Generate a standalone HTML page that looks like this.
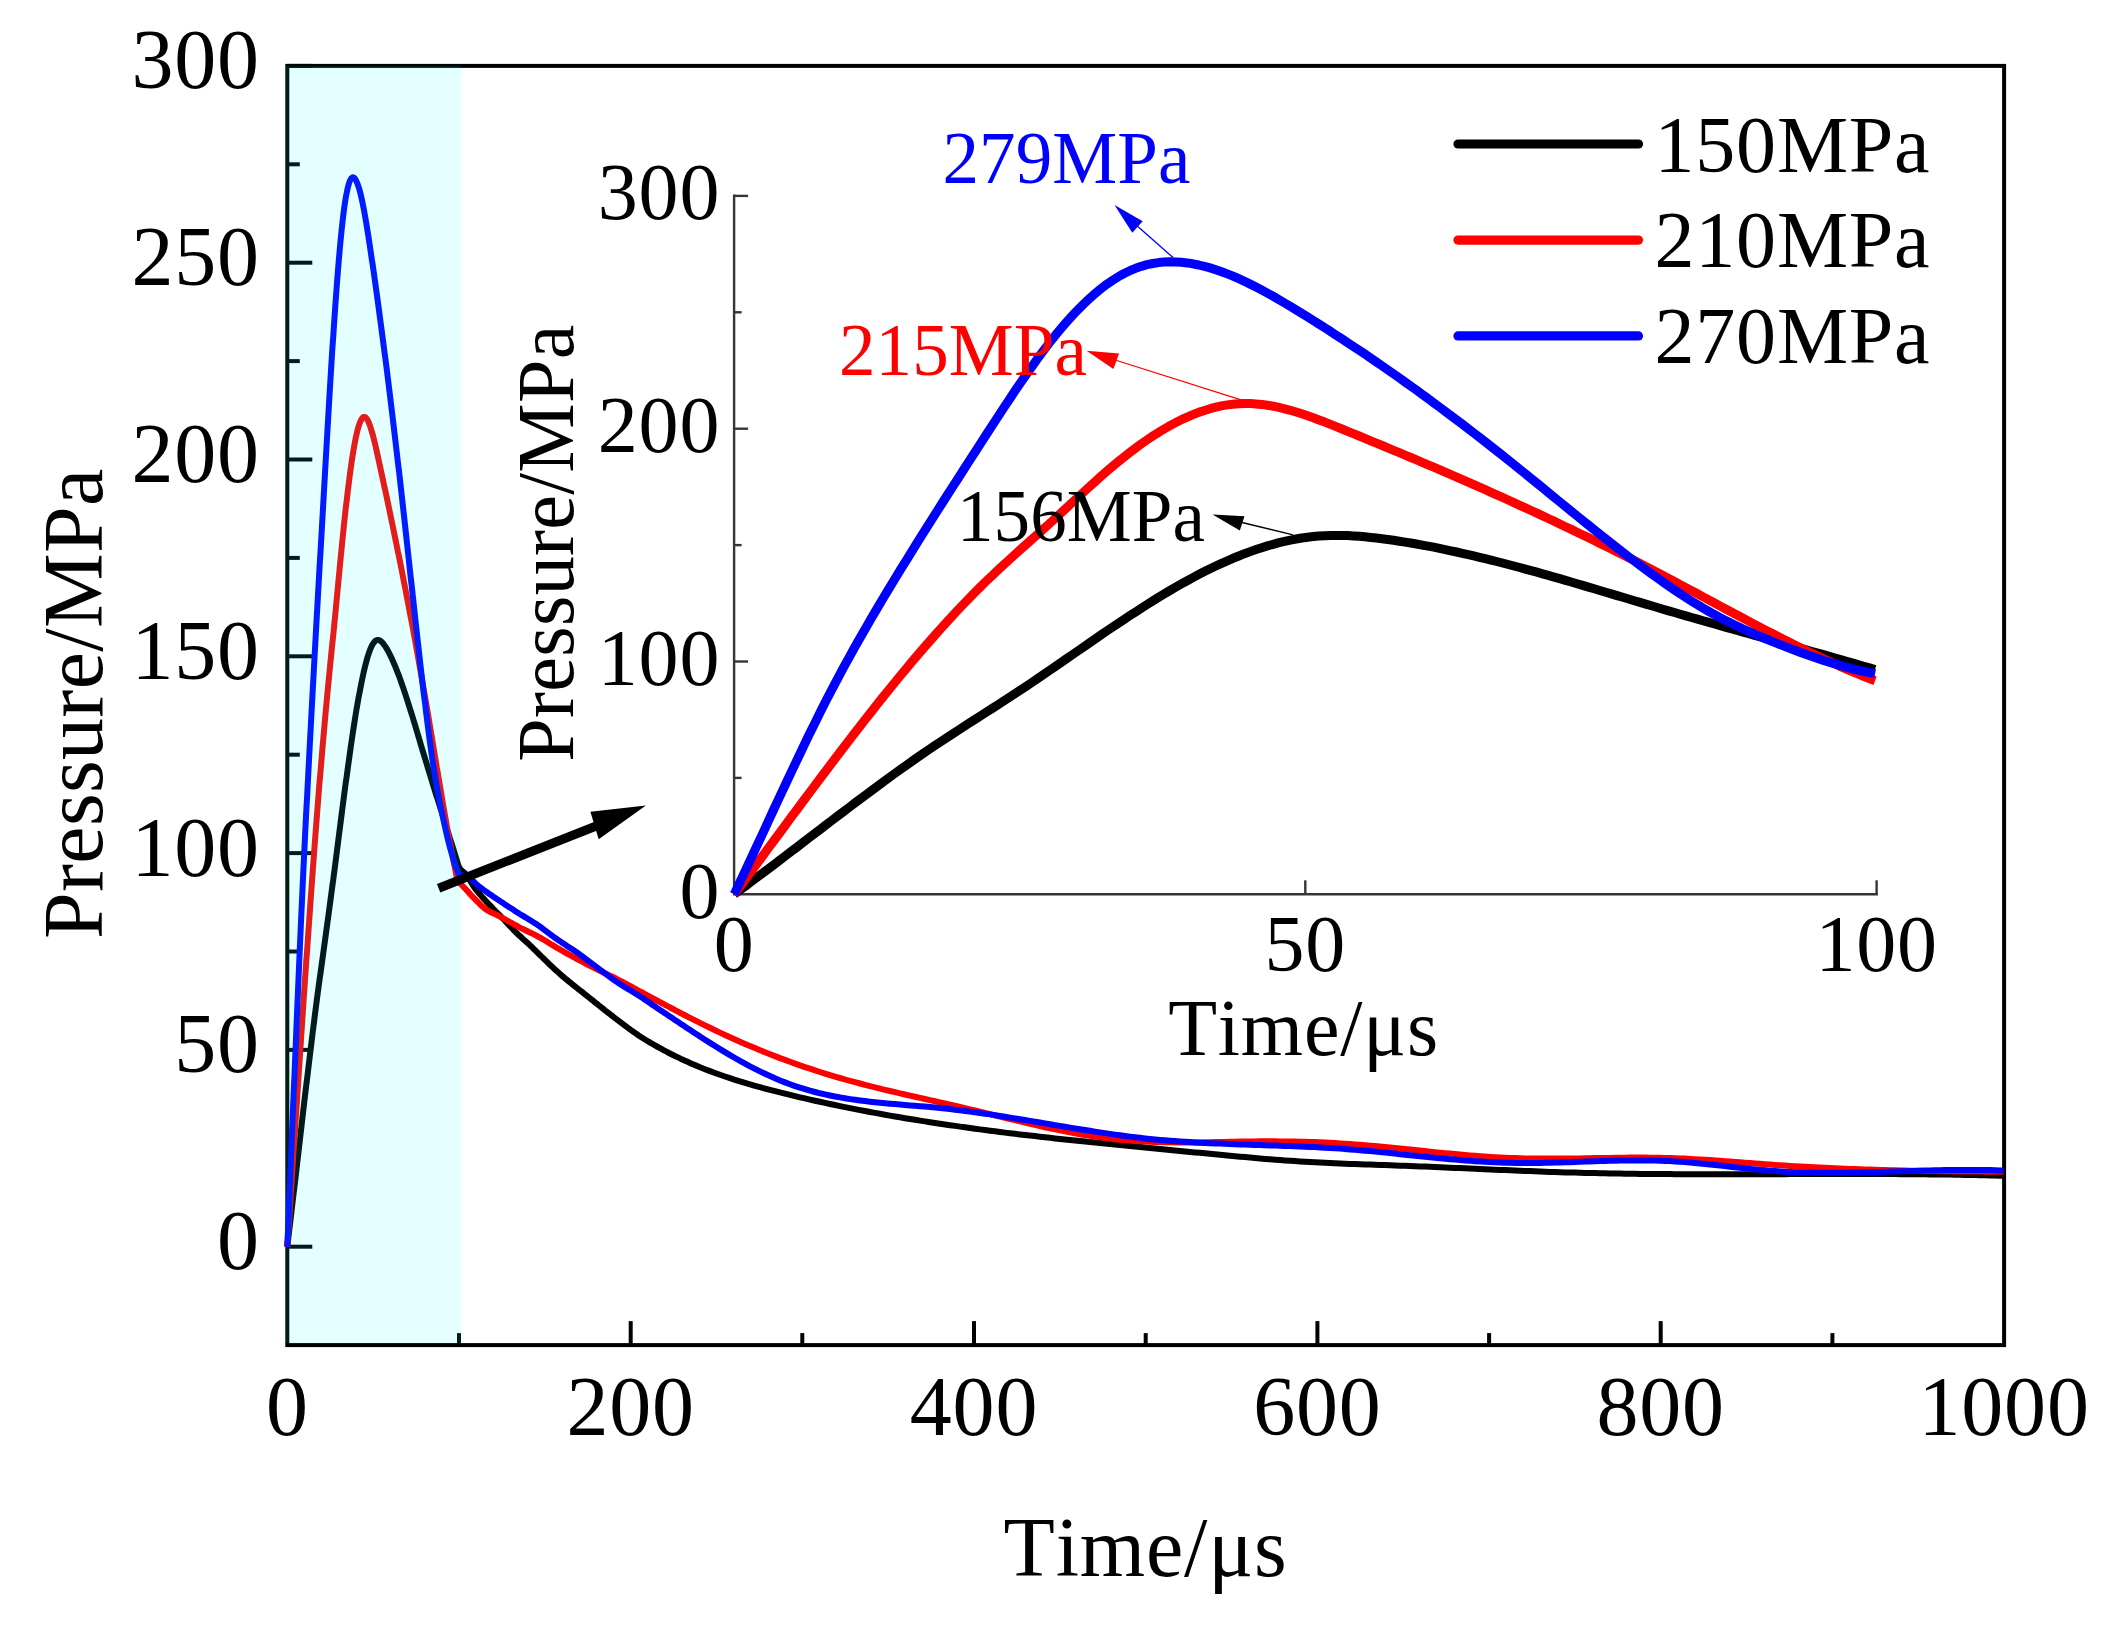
<!DOCTYPE html>
<html lang="en"><head><meta charset="utf-8"><title>Pressure vs time</title>
<style>
html,body{margin:0;padding:0;background:#fff;}
body{width:2110px;height:1630px;overflow:hidden;}
svg{display:block;}
text{font-family:"Liberation Serif",serif;font-kerning:none;letter-spacing:0.8px;}
.yl{letter-spacing:0.35px;}
.m{font-size:84px;}
.i{font-size:80px;}
.a{font-size:73px;}
.a text{letter-spacing:0.1px;}
.iy{font-size:78px;}
</style></head><body>
<svg width="2110" height="1630" viewBox="0 0 2110 1630">
<rect x="0" y="0" width="2110" height="1630" fill="#ffffff"/>
<g stroke="#000" stroke-width="4.0" fill="none" stroke-linecap="butt">
<rect x="287.3" y="65.9" width="1716.8" height="1279.2"/>
</g>
<g stroke="#000" stroke-width="4" fill="none">
<line x1="287.3" y1="1246.7" x2="312.3" y2="1246.7"/>
<line x1="287.3" y1="1148.3" x2="299.8" y2="1148.3"/>
<line x1="287.3" y1="1049.9" x2="312.3" y2="1049.9"/>
<line x1="287.3" y1="951.5" x2="299.8" y2="951.5"/>
<line x1="287.3" y1="853.1" x2="312.3" y2="853.1"/>
<line x1="287.3" y1="754.7" x2="299.8" y2="754.7"/>
<line x1="287.3" y1="656.3" x2="312.3" y2="656.3"/>
<line x1="287.3" y1="557.9" x2="299.8" y2="557.9"/>
<line x1="287.3" y1="459.5" x2="312.3" y2="459.5"/>
<line x1="287.3" y1="361.1" x2="299.8" y2="361.1"/>
<line x1="287.3" y1="262.7" x2="312.3" y2="262.7"/>
<line x1="287.3" y1="164.3" x2="299.8" y2="164.3"/>
<line x1="287.3" y1="65.9" x2="312.3" y2="65.9"/>
<line x1="459.0" y1="1345.1" x2="459.0" y2="1333.1"/>
<line x1="630.7" y1="1345.1" x2="630.7" y2="1321.1"/>
<line x1="802.3" y1="1345.1" x2="802.3" y2="1333.1"/>
<line x1="974.0" y1="1345.1" x2="974.0" y2="1321.1"/>
<line x1="1145.7" y1="1345.1" x2="1145.7" y2="1333.1"/>
<line x1="1317.4" y1="1345.1" x2="1317.4" y2="1321.1"/>
<line x1="1489.1" y1="1345.1" x2="1489.1" y2="1333.1"/>
<line x1="1660.7" y1="1345.1" x2="1660.7" y2="1321.1"/>
<line x1="1832.4" y1="1345.1" x2="1832.4" y2="1333.1"/>
</g>
<g class="m" fill="#000">
<text x="259.8" y="1269.2" text-anchor="end">0</text>
<text x="259.8" y="1072.4" text-anchor="end">50</text>
<text x="259.8" y="875.6" text-anchor="end">100</text>
<text x="259.8" y="678.8" text-anchor="end">150</text>
<text x="259.8" y="482.0" text-anchor="end">200</text>
<text x="259.8" y="285.2" text-anchor="end">250</text>
<text x="259.8" y="88.4" text-anchor="end">300</text>
<text x="287.3" y="1434.5" text-anchor="middle">0</text>
<text x="630.7" y="1434.5" text-anchor="middle">200</text>
<text x="974.0" y="1434.5" text-anchor="middle">400</text>
<text x="1317.4" y="1434.5" text-anchor="middle">600</text>
<text x="1660.7" y="1434.5" text-anchor="middle">800</text>
<text x="2004.1" y="1434.5" text-anchor="middle">1000</text>
<text x="1145.5" y="1576" text-anchor="middle">Time/μs</text>
<text class="yl" transform="translate(101.8 703.7) rotate(-90) scale(1 1.02)" text-anchor="middle">Pressure/MPa</text>
</g>
<g fill="none" stroke-width="6" stroke-linejoin="round" stroke-linecap="butt">
<path stroke="#000000" d="M287.3 1246.7 L288.0 1240.9 L288.7 1235.1 L289.4 1229.2 L290.1 1223.3 L290.8 1217.4 L291.5 1211.4 L292.2 1205.5 L292.9 1199.5 L293.6 1193.4 L294.4 1187.4 L295.1 1181.4 L295.8 1175.3 L296.5 1169.3 L297.2 1163.2 L297.9 1157.1 L298.6 1151.1 L299.3 1145.0 L300.0 1138.9 L300.7 1132.9 L301.4 1126.8 L302.1 1120.8 L302.8 1114.7 L303.5 1108.7 L304.2 1102.7 L304.9 1096.7 L305.6 1090.7 L306.3 1084.8 L307.1 1078.8 L307.8 1072.9 L308.5 1067.0 L309.2 1061.2 L309.9 1055.4 L310.6 1049.6 L311.3 1043.8 L312.0 1038.1 L312.7 1032.5 L313.4 1026.8 L314.1 1021.3 L314.8 1015.7 L315.5 1010.2 L316.2 1004.8 L316.9 999.4 L317.6 994.1 L318.3 988.8 L319.0 983.6 L319.7 978.4 L320.5 973.2 L321.2 968.1 L321.9 962.9 L322.6 957.8 L323.3 952.8 L324.0 947.7 L324.7 942.6 L325.4 937.5 L326.1 932.4 L326.8 927.3 L327.5 922.2 L328.2 917.1 L328.9 911.9 L329.6 906.7 L330.3 901.5 L331.0 896.2 L331.7 890.9 L332.4 885.5 L333.2 880.1 L333.9 874.7 L334.6 869.3 L335.3 863.8 L336.0 858.4 L336.7 852.9 L337.4 847.4 L338.1 841.9 L338.8 836.4 L339.5 830.9 L340.2 825.5 L340.9 820.0 L341.6 814.5 L342.3 809.1 L343.0 803.7 L343.7 798.3 L344.4 792.9 L345.1 787.6 L345.8 782.3 L346.6 777.1 L347.3 771.9 L348.0 766.7 L348.7 761.6 L349.4 756.6 L350.1 751.6 L350.8 746.7 L351.5 741.9 L352.2 737.1 L352.9 732.4 L353.6 727.8 L354.3 723.2 L355.0 718.8 L355.7 714.4 L356.4 710.1 L357.1 705.9 L357.8 701.9 L358.5 697.9 L359.3 694.0 L360.0 690.2 L360.7 686.6 L361.4 683.0 L362.1 679.6 L362.8 676.3 L363.5 673.1 L364.2 670.0 L364.9 667.1 L365.6 664.3 L366.3 661.7 L367.0 659.1 L367.7 656.7 L368.4 654.5 L369.1 652.4 L369.8 650.5 L370.5 648.7 L371.2 647.1 L371.9 645.6 L372.7 644.3 L373.4 643.2 L374.1 642.2 L374.8 641.4 L375.5 640.8 L376.2 640.3 L376.9 640.1 L377.6 639.9 L378.3 640.0 L379.0 640.1 L379.7 640.4 L380.4 640.8 L381.1 641.4 L381.8 642.0 L382.5 642.7 L383.2 643.6 L383.9 644.5 L384.6 645.5 L385.4 646.5 L386.1 647.7 L386.8 648.8 L387.5 650.0 L388.2 651.3 L388.9 652.6 L389.6 654.0 L390.3 655.4 L391.0 656.8 L391.7 658.3 L392.4 659.9 L393.1 661.4 L393.8 663.1 L394.5 664.7 L395.2 666.4 L395.9 668.1 L396.6 669.9 L397.3 671.7 L398.0 673.5 L398.8 675.4 L399.5 677.3 L400.2 679.2 L400.9 681.2 L401.6 683.2 L402.3 685.2 L403.0 687.2 L403.7 689.3 L404.4 691.4 L405.1 693.5 L405.8 695.6 L406.5 697.8 L407.2 699.9 L407.9 702.1 L408.6 704.4 L409.3 706.6 L410.0 708.8 L410.7 711.1 L411.5 713.4 L412.2 715.7 L412.9 718.0 L413.6 720.3 L414.3 722.6 L415.0 724.9 L415.7 727.3 L416.4 729.6 L417.1 732.0 L417.8 734.3 L418.5 736.7 L419.2 739.0 L419.9 741.4 L420.6 743.8 L421.3 746.1 L422.0 748.5 L422.7 750.9 L423.4 753.2 L424.1 755.6 L424.9 757.9 L425.6 760.3 L426.3 762.6 L427.0 764.9 L427.7 767.3 L428.4 769.6 L429.1 771.9 L429.8 774.2 L430.5 776.5 L431.2 778.7 L431.9 781.0 L432.6 783.3 L433.3 785.6 L434.0 787.8 L434.7 790.1 L435.4 792.3 L436.1 794.6 L436.8 796.8 L437.6 799.1 L438.3 801.3 L439.0 803.5 L439.7 805.8 L440.4 808.0 L441.1 810.2 L441.8 812.5 L442.5 814.7 L443.2 816.9 L443.9 819.2 L444.6 821.4 L445.3 823.6 L446.0 825.8 L446.7 828.1 L447.4 830.3 L448.1 832.5 L448.8 834.8 L449.5 837.0 L450.2 839.3 L451.0 841.5 L451.7 843.8 L452.4 846.0 L453.1 848.3 L453.8 850.5 L454.5 852.8 L455.2 855.1 L455.9 857.4 L456.6 859.6 L457.3 861.9 L458.0 864.3 L458.7 866.6 L459.4 867.8 L460.1 868.8 L460.8 869.7 L461.5 870.4 L462.2 871.0 L462.9 871.6 L463.7 872.2 L464.4 872.8 L465.1 873.4 L465.8 874.2 L466.5 875.1 L467.2 876.1 L467.9 877.1 L468.6 878.2 L469.3 879.3 L470.0 880.5 L471.0 882.1 L473.0 885.4 L475.0 888.3 L477.0 890.9 L479.0 893.3 L481.0 895.6 L483.0 897.9 L485.0 900.0 L487.0 902.2 L489.0 904.3 L491.0 906.4 L493.0 908.5 L495.0 910.5 L497.0 912.5 L499.0 914.5 L501.0 916.6 L503.0 918.7 L505.0 920.8 L507.0 923.0 L509.0 925.1 L511.0 927.2 L513.0 929.3 L515.0 931.3 L517.0 933.3 L519.0 935.3 L521.0 937.1 L523.0 938.9 L525.0 940.7 L527.0 942.5 L529.0 944.3 L531.0 946.2 L533.0 948.2 L535.0 950.1 L537.0 952.1 L539.0 954.1 L541.0 956.0 L543.0 958.0 L545.0 959.9 L547.0 961.8 L549.0 963.8 L551.0 965.7 L553.0 967.6 L555.0 969.5 L557.0 971.3 L559.0 973.1 L561.0 974.9 L563.0 976.6 L565.0 978.3 L567.0 979.9 L569.0 981.6 L571.0 983.2 L573.0 984.8 L575.0 986.4 L577.0 988.0 L579.0 989.6 L581.0 991.1 L583.0 992.7 L585.0 994.3 L587.0 995.9 L589.0 997.5 L591.0 999.1 L593.0 1000.7 L595.0 1002.3 L597.0 1003.9 L599.0 1005.5 L601.0 1007.1 L603.0 1008.7 L605.0 1010.3 L607.0 1011.8 L609.0 1013.4 L611.0 1015.0 L613.0 1016.5 L615.0 1018.1 L617.0 1019.6 L619.0 1021.1 L621.0 1022.6 L623.0 1024.1 L625.0 1025.6 L627.0 1027.1 L629.0 1028.6 L631.0 1030.1 L633.0 1031.5 L635.0 1032.9 L637.0 1034.3 L639.0 1035.7 L641.0 1037.0 L643.0 1038.3 L645.0 1039.5 L647.0 1040.7 L649.0 1041.9 L651.0 1043.1 L653.0 1044.2 L655.0 1045.4 L657.0 1046.5 L659.0 1047.6 L661.0 1048.7 L663.0 1049.8 L665.0 1050.9 L667.0 1051.9 L669.0 1053.0 L671.0 1054.0 L673.0 1055.0 L675.0 1056.0 L677.0 1056.9 L679.0 1057.9 L681.0 1058.9 L683.0 1059.8 L685.0 1060.7 L687.0 1061.6 L689.0 1062.5 L691.0 1063.4 L693.0 1064.3 L695.0 1065.1 L697.0 1065.9 L699.0 1066.8 L700.0 1067.2 L705.0 1069.2 L710.0 1071.1 L715.0 1073.0 L720.0 1074.8 L725.0 1076.5 L730.0 1078.2 L735.0 1079.8 L740.0 1081.4 L745.0 1082.9 L750.0 1084.4 L755.0 1085.8 L760.0 1087.2 L765.0 1088.6 L770.0 1089.9 L775.0 1091.2 L780.0 1092.4 L785.0 1093.7 L790.0 1094.9 L795.0 1096.1 L800.0 1097.3 L805.0 1098.4 L810.0 1099.6 L815.0 1100.7 L820.0 1101.8 L825.0 1102.9 L830.0 1104.0 L835.0 1105.0 L840.0 1106.1 L845.0 1107.1 L850.0 1108.1 L855.0 1109.1 L860.0 1110.1 L865.0 1111.0 L870.0 1112.0 L875.0 1112.9 L880.0 1113.8 L885.0 1114.7 L890.0 1115.6 L895.0 1116.5 L900.0 1117.3 L905.0 1118.2 L910.0 1119.0 L915.0 1119.8 L920.0 1120.6 L925.0 1121.4 L930.0 1122.2 L935.0 1123.0 L940.0 1123.7 L945.0 1124.5 L950.0 1125.2 L955.0 1125.9 L960.0 1126.6 L965.0 1127.3 L970.0 1128.0 L975.0 1128.7 L980.0 1129.4 L985.0 1130.0 L990.0 1130.7 L995.0 1131.3 L1000.0 1131.9 L1005.0 1132.6 L1010.0 1133.2 L1015.0 1133.8 L1020.0 1134.4 L1025.0 1135.0 L1030.0 1135.6 L1035.0 1136.1 L1040.0 1136.7 L1045.0 1137.3 L1050.0 1137.8 L1055.0 1138.4 L1060.0 1138.9 L1065.0 1139.5 L1070.0 1140.0 L1075.0 1140.5 L1080.0 1141.1 L1085.0 1141.6 L1090.0 1142.1 L1095.0 1142.6 L1100.0 1143.1 L1105.0 1143.6 L1110.0 1144.1 L1115.0 1144.6 L1120.0 1145.1 L1125.0 1145.6 L1130.0 1146.1 L1135.0 1146.6 L1140.0 1147.1 L1145.0 1147.6 L1150.0 1148.0 L1155.0 1148.5 L1160.0 1149.0 L1165.0 1149.5 L1170.0 1150.0 L1175.0 1150.4 L1180.0 1150.9 L1185.0 1151.4 L1190.0 1151.9 L1195.0 1152.4 L1200.0 1152.8 L1205.0 1153.3 L1210.0 1153.8 L1215.0 1154.3 L1220.0 1154.8 L1225.0 1155.3 L1230.0 1155.7 L1235.0 1156.2 L1240.0 1156.7 L1245.0 1157.1 L1250.0 1157.6 L1255.0 1158.0 L1260.0 1158.5 L1265.0 1158.9 L1270.0 1159.3 L1275.0 1159.7 L1280.0 1160.1 L1285.0 1160.4 L1290.0 1160.8 L1295.0 1161.1 L1300.0 1161.4 L1305.0 1161.7 L1310.0 1162.0 L1315.0 1162.3 L1320.0 1162.6 L1325.0 1162.8 L1330.0 1163.0 L1335.0 1163.3 L1340.0 1163.5 L1345.0 1163.7 L1350.0 1163.9 L1355.0 1164.1 L1360.0 1164.3 L1365.0 1164.4 L1370.0 1164.6 L1375.0 1164.8 L1380.0 1165.0 L1385.0 1165.1 L1390.0 1165.3 L1395.0 1165.5 L1400.0 1165.7 L1405.0 1165.8 L1410.0 1166.0 L1415.0 1166.2 L1420.0 1166.4 L1425.0 1166.6 L1430.0 1166.8 L1435.0 1167.0 L1440.0 1167.2 L1445.0 1167.4 L1450.0 1167.7 L1455.0 1167.9 L1460.0 1168.1 L1465.0 1168.3 L1470.0 1168.6 L1475.0 1168.8 L1480.0 1169.0 L1485.0 1169.2 L1490.0 1169.4 L1495.0 1169.7 L1500.0 1169.9 L1505.0 1170.1 L1510.0 1170.3 L1515.0 1170.5 L1520.0 1170.7 L1525.0 1170.9 L1530.0 1171.1 L1535.0 1171.3 L1540.0 1171.5 L1545.0 1171.7 L1550.0 1171.9 L1555.0 1172.0 L1560.0 1172.2 L1565.0 1172.4 L1570.0 1172.5 L1575.0 1172.6 L1580.0 1172.8 L1585.0 1172.9 L1590.0 1173.0 L1595.0 1173.1 L1600.0 1173.2 L1605.0 1173.3 L1610.0 1173.4 L1615.0 1173.5 L1620.0 1173.6 L1625.0 1173.7 L1630.0 1173.7 L1635.0 1173.8 L1640.0 1173.9 L1645.0 1173.9 L1650.0 1174.0 L1655.0 1174.0 L1660.0 1174.1 L1665.0 1174.1 L1670.0 1174.1 L1675.0 1174.2 L1680.0 1174.2 L1685.0 1174.2 L1690.0 1174.2 L1695.0 1174.2 L1700.0 1174.3 L1705.0 1174.3 L1710.0 1174.3 L1715.0 1174.3 L1720.0 1174.3 L1725.0 1174.3 L1730.0 1174.3 L1735.0 1174.3 L1740.0 1174.3 L1745.0 1174.3 L1750.0 1174.2 L1755.0 1174.2 L1760.0 1174.2 L1765.0 1174.2 L1770.0 1174.2 L1775.0 1174.2 L1780.0 1174.2 L1785.0 1174.2 L1790.0 1174.1 L1795.0 1174.1 L1800.0 1174.1 L1805.0 1174.1 L1810.0 1174.1 L1815.0 1174.1 L1820.0 1174.1 L1825.0 1174.1 L1830.0 1174.0 L1835.0 1174.0 L1840.0 1174.0 L1845.0 1174.0 L1850.0 1174.0 L1855.0 1174.0 L1860.0 1174.0 L1865.0 1174.0 L1870.0 1174.0 L1875.0 1174.1 L1880.0 1174.1 L1885.0 1174.1 L1890.0 1174.1 L1895.0 1174.1 L1900.0 1174.2 L1905.0 1174.2 L1910.0 1174.2 L1915.0 1174.3 L1920.0 1174.3 L1925.0 1174.3 L1930.0 1174.4 L1935.0 1174.4 L1940.0 1174.5 L1945.0 1174.6 L1950.0 1174.6 L1955.0 1174.7 L1960.0 1174.8 L1965.0 1174.9 L1970.0 1175.0 L1975.0 1175.1 L1980.0 1175.2 L1985.0 1175.3 L1990.0 1175.4 L1995.0 1175.6 L2000.0 1175.7 L2003.5 1175.8"/>
<path stroke="#ff0000" d="M287.3 1246.7 L288.0 1236.2 L288.7 1225.6 L289.4 1214.9 L290.1 1204.2 L290.8 1193.4 L291.5 1182.7 L292.2 1172.0 L292.9 1161.2 L293.6 1150.5 L294.4 1139.7 L295.1 1129.0 L295.8 1118.3 L296.5 1107.6 L297.2 1096.9 L297.9 1086.2 L298.6 1075.6 L299.3 1065.0 L300.0 1054.4 L300.7 1043.8 L301.4 1033.3 L302.1 1022.8 L302.8 1012.3 L303.5 1001.9 L304.2 991.5 L304.9 981.2 L305.6 970.9 L306.3 960.7 L307.1 950.5 L307.8 940.4 L308.5 930.4 L309.2 920.4 L309.9 910.5 L310.6 900.6 L311.3 890.9 L312.0 881.2 L312.7 871.6 L313.4 862.0 L314.1 852.6 L314.8 843.2 L315.5 833.9 L316.2 824.7 L316.9 815.7 L317.6 806.7 L318.3 797.8 L319.0 789.0 L319.7 780.3 L320.5 771.7 L321.2 763.3 L321.9 755.0 L322.6 746.7 L323.3 738.6 L324.0 730.7 L324.7 722.8 L325.4 715.1 L326.1 707.5 L326.8 700.0 L327.5 692.6 L328.2 685.3 L328.9 678.1 L329.6 671.0 L330.3 663.8 L331.0 656.8 L331.7 649.7 L332.4 642.6 L333.2 635.5 L333.9 628.4 L334.6 621.2 L335.3 614.0 L336.0 606.7 L336.7 599.4 L337.4 592.0 L338.1 584.7 L338.8 577.3 L339.5 570.0 L340.2 562.7 L340.9 555.5 L341.6 548.3 L342.3 541.3 L343.0 534.3 L343.7 527.4 L344.4 520.7 L345.1 514.1 L345.8 507.7 L346.6 501.5 L347.3 495.4 L348.0 489.5 L348.7 483.8 L349.4 478.3 L350.1 472.9 L350.8 467.8 L351.5 462.9 L352.2 458.2 L352.9 453.8 L353.6 449.5 L354.3 445.5 L355.0 441.7 L355.7 438.2 L356.4 434.9 L357.1 431.9 L357.8 429.1 L358.5 426.6 L359.3 424.4 L360.0 422.4 L360.7 420.8 L361.4 419.4 L362.1 418.3 L362.8 417.5 L363.5 417.0 L364.2 416.9 L364.9 417.0 L365.6 417.4 L366.3 418.1 L367.0 419.1 L367.7 420.3 L368.4 421.8 L369.1 423.4 L369.8 425.3 L370.5 427.4 L371.2 429.6 L371.9 432.0 L372.7 434.5 L373.4 437.2 L374.1 440.0 L374.8 442.9 L375.5 445.9 L376.2 449.0 L376.9 452.1 L377.6 455.3 L378.3 458.5 L379.0 461.7 L379.7 464.9 L380.4 468.2 L381.1 471.4 L381.8 474.7 L382.5 477.9 L383.2 481.2 L383.9 484.5 L384.6 487.8 L385.4 491.1 L386.1 494.4 L386.8 497.7 L387.5 501.0 L388.2 504.3 L388.9 507.7 L389.6 511.0 L390.3 514.4 L391.0 517.8 L391.7 521.2 L392.4 524.5 L393.1 527.9 L393.8 531.4 L394.5 534.8 L395.2 538.2 L395.9 541.7 L396.6 545.1 L397.3 548.6 L398.0 552.1 L398.8 555.6 L399.5 559.1 L400.2 562.6 L400.9 566.2 L401.6 569.7 L402.3 573.3 L403.0 576.9 L403.7 580.5 L404.4 584.1 L405.1 587.7 L405.8 591.3 L406.5 595.0 L407.2 598.6 L407.9 602.3 L408.6 606.0 L409.3 609.7 L410.0 613.5 L410.7 617.2 L411.5 621.0 L412.2 624.7 L412.9 628.5 L413.6 632.3 L414.3 636.2 L415.0 640.0 L415.7 643.9 L416.4 647.7 L417.1 651.6 L417.8 655.6 L418.5 659.5 L419.2 663.4 L419.9 667.4 L420.6 671.4 L421.3 675.4 L422.0 679.4 L422.7 683.5 L423.4 687.6 L424.1 691.6 L424.9 695.7 L425.6 699.9 L426.3 704.0 L427.0 708.2 L427.7 712.4 L428.4 716.6 L429.1 720.8 L429.8 725.0 L430.5 729.3 L431.2 733.5 L431.9 737.8 L432.6 742.0 L433.3 746.3 L434.0 750.5 L434.7 754.8 L435.4 759.1 L436.1 763.3 L436.8 767.6 L437.6 771.8 L438.3 776.0 L439.0 780.3 L439.7 784.5 L440.4 788.6 L441.1 792.8 L441.8 797.0 L442.5 801.1 L443.2 805.2 L443.9 809.3 L444.6 813.3 L445.3 817.3 L446.0 821.3 L446.7 825.3 L447.4 829.2 L448.1 833.1 L448.8 836.9 L449.5 840.7 L450.2 844.5 L451.0 848.2 L451.7 851.9 L452.4 855.5 L453.1 859.1 L453.8 862.6 L454.5 866.1 L455.2 869.5 L455.9 872.8 L456.6 876.1 L457.3 879.8 L458.0 881.6 L458.7 882.4 L459.4 883.0 L460.1 883.5 L460.8 884.1 L461.5 884.7 L462.2 885.5 L462.9 886.2 L463.7 886.9 L464.4 887.7 L465.1 888.5 L465.8 889.2 L466.5 890.0 L467.2 890.8 L467.9 891.6 L468.6 892.4 L469.3 893.1 L470.0 893.9 L471.0 895.0 L473.0 897.1 L475.0 899.1 L477.0 901.2 L479.0 903.2 L481.0 905.2 L483.0 907.0 L485.0 908.7 L487.0 910.1 L489.0 911.3 L491.0 912.3 L493.0 913.2 L495.0 914.1 L497.0 915.0 L499.0 916.1 L501.0 917.1 L503.0 918.2 L505.0 919.3 L507.0 920.5 L509.0 921.6 L511.0 922.7 L513.0 923.8 L515.0 924.9 L517.0 926.0 L519.0 927.1 L521.0 928.1 L523.0 929.1 L525.0 930.0 L527.0 931.0 L529.0 932.0 L531.0 932.9 L533.0 933.9 L535.0 934.9 L537.0 936.0 L539.0 937.1 L541.0 938.2 L543.0 939.3 L545.0 940.5 L547.0 941.7 L549.0 943.0 L551.0 944.2 L553.0 945.4 L555.0 946.6 L557.0 947.8 L559.0 948.9 L561.0 950.1 L563.0 951.2 L565.0 952.4 L567.0 953.5 L569.0 954.6 L571.0 955.7 L573.0 956.8 L575.0 957.9 L577.0 959.0 L579.0 960.1 L581.0 961.1 L583.0 962.1 L585.0 963.2 L587.0 964.2 L589.0 965.2 L591.0 966.2 L593.0 967.2 L595.0 968.2 L597.0 969.2 L599.0 970.2 L601.0 971.2 L603.0 972.2 L605.0 973.2 L607.0 974.1 L609.0 975.1 L611.0 976.1 L613.0 977.0 L615.0 978.0 L617.0 979.1 L619.0 980.1 L621.0 981.1 L623.0 982.2 L625.0 983.3 L627.0 984.3 L629.0 985.4 L631.0 986.5 L633.0 987.6 L635.0 988.7 L637.0 989.8 L639.0 990.9 L641.0 991.9 L643.0 993.0 L645.0 994.1 L647.0 995.2 L649.0 996.2 L651.0 997.3 L653.0 998.4 L655.0 999.5 L657.0 1000.5 L659.0 1001.6 L661.0 1002.7 L663.0 1003.7 L665.0 1004.8 L667.0 1005.9 L669.0 1006.9 L671.0 1008.0 L673.0 1009.0 L675.0 1010.1 L677.0 1011.1 L679.0 1012.2 L681.0 1013.2 L683.0 1014.3 L685.0 1015.3 L687.0 1016.3 L689.0 1017.4 L691.0 1018.4 L693.0 1019.4 L695.0 1020.4 L697.0 1021.4 L699.0 1022.4 L700.0 1022.9 L705.0 1025.4 L710.0 1027.8 L715.0 1030.2 L720.0 1032.6 L725.0 1034.9 L730.0 1037.2 L735.0 1039.5 L740.0 1041.7 L745.0 1043.9 L750.0 1046.0 L755.0 1048.1 L760.0 1050.2 L765.0 1052.2 L770.0 1054.2 L775.0 1056.1 L780.0 1058.1 L785.0 1059.9 L790.0 1061.8 L795.0 1063.6 L800.0 1065.3 L805.0 1067.1 L810.0 1068.7 L815.0 1070.4 L820.0 1072.0 L825.0 1073.6 L830.0 1075.1 L835.0 1076.6 L840.0 1078.0 L845.0 1079.5 L850.0 1080.9 L855.0 1082.2 L860.0 1083.5 L865.0 1084.8 L870.0 1086.1 L875.0 1087.4 L880.0 1088.6 L885.0 1089.8 L890.0 1091.0 L895.0 1092.2 L900.0 1093.4 L905.0 1094.5 L910.0 1095.7 L915.0 1096.8 L920.0 1097.9 L925.0 1099.0 L930.0 1100.2 L935.0 1101.3 L940.0 1102.4 L945.0 1103.5 L950.0 1104.7 L955.0 1105.8 L960.0 1107.0 L965.0 1108.1 L970.0 1109.3 L975.0 1110.5 L980.0 1111.7 L985.0 1112.9 L990.0 1114.1 L995.0 1115.3 L1000.0 1116.5 L1005.0 1117.8 L1010.0 1119.0 L1015.0 1120.2 L1020.0 1121.4 L1025.0 1122.6 L1030.0 1123.8 L1035.0 1124.9 L1040.0 1126.1 L1045.0 1127.2 L1050.0 1128.3 L1055.0 1129.4 L1060.0 1130.4 L1065.0 1131.4 L1070.0 1132.4 L1075.0 1133.3 L1080.0 1134.2 L1085.0 1135.1 L1090.0 1135.9 L1095.0 1136.7 L1100.0 1137.4 L1105.0 1138.0 L1110.0 1138.6 L1115.0 1139.2 L1120.0 1139.7 L1125.0 1140.1 L1130.0 1140.6 L1135.0 1140.9 L1140.0 1141.2 L1145.0 1141.5 L1150.0 1141.7 L1155.0 1141.9 L1160.0 1142.1 L1165.0 1142.2 L1170.0 1142.3 L1175.0 1142.4 L1180.0 1142.4 L1185.0 1142.5 L1190.0 1142.4 L1195.0 1142.4 L1200.0 1142.4 L1205.0 1142.3 L1210.0 1142.2 L1215.0 1142.1 L1220.0 1142.0 L1225.0 1141.9 L1230.0 1141.8 L1235.0 1141.7 L1240.0 1141.6 L1245.0 1141.5 L1250.0 1141.4 L1255.0 1141.4 L1260.0 1141.3 L1265.0 1141.3 L1270.0 1141.3 L1275.0 1141.3 L1280.0 1141.4 L1285.0 1141.4 L1290.0 1141.5 L1295.0 1141.6 L1300.0 1141.7 L1305.0 1141.8 L1310.0 1141.9 L1315.0 1142.1 L1320.0 1142.3 L1325.0 1142.5 L1330.0 1142.8 L1335.0 1143.1 L1340.0 1143.4 L1345.0 1143.7 L1350.0 1144.0 L1355.0 1144.4 L1360.0 1144.8 L1365.0 1145.2 L1370.0 1145.7 L1375.0 1146.1 L1380.0 1146.6 L1385.0 1147.1 L1390.0 1147.5 L1395.0 1148.0 L1400.0 1148.6 L1405.0 1149.1 L1410.0 1149.6 L1415.0 1150.1 L1420.0 1150.6 L1425.0 1151.1 L1430.0 1151.7 L1435.0 1152.2 L1440.0 1152.7 L1445.0 1153.2 L1450.0 1153.6 L1455.0 1154.1 L1460.0 1154.6 L1465.0 1155.0 L1470.0 1155.4 L1475.0 1155.8 L1480.0 1156.2 L1485.0 1156.6 L1490.0 1156.9 L1495.0 1157.2 L1500.0 1157.5 L1505.0 1157.7 L1510.0 1158.0 L1515.0 1158.1 L1520.0 1158.3 L1525.0 1158.4 L1530.0 1158.5 L1535.0 1158.6 L1540.0 1158.6 L1545.0 1158.6 L1550.0 1158.6 L1555.0 1158.6 L1560.0 1158.6 L1565.0 1158.5 L1570.0 1158.5 L1575.0 1158.4 L1580.0 1158.4 L1585.0 1158.3 L1590.0 1158.2 L1595.0 1158.1 L1600.0 1158.0 L1605.0 1157.9 L1610.0 1157.9 L1615.0 1157.8 L1620.0 1157.7 L1625.0 1157.7 L1630.0 1157.6 L1635.0 1157.6 L1640.0 1157.6 L1645.0 1157.6 L1650.0 1157.7 L1655.0 1157.7 L1660.0 1157.8 L1665.0 1157.9 L1670.0 1158.0 L1675.0 1158.2 L1680.0 1158.4 L1685.0 1158.6 L1690.0 1158.9 L1695.0 1159.2 L1700.0 1159.4 L1705.0 1159.8 L1710.0 1160.1 L1715.0 1160.4 L1720.0 1160.8 L1725.0 1161.2 L1730.0 1161.5 L1735.0 1161.9 L1740.0 1162.3 L1745.0 1162.7 L1750.0 1163.1 L1755.0 1163.5 L1760.0 1163.8 L1765.0 1164.2 L1770.0 1164.6 L1775.0 1164.9 L1780.0 1165.3 L1785.0 1165.6 L1790.0 1165.9 L1795.0 1166.2 L1800.0 1166.5 L1805.0 1166.8 L1810.0 1167.1 L1815.0 1167.3 L1820.0 1167.6 L1825.0 1167.8 L1830.0 1168.1 L1835.0 1168.3 L1840.0 1168.5 L1845.0 1168.7 L1850.0 1168.9 L1855.0 1169.1 L1860.0 1169.3 L1865.0 1169.4 L1870.0 1169.6 L1875.0 1169.8 L1880.0 1169.9 L1885.0 1170.0 L1890.0 1170.2 L1895.0 1170.3 L1900.0 1170.4 L1905.0 1170.5 L1910.0 1170.7 L1915.0 1170.8 L1920.0 1170.8 L1925.0 1170.9 L1930.0 1171.0 L1935.0 1171.1 L1940.0 1171.2 L1945.0 1171.2 L1950.0 1171.3 L1955.0 1171.4 L1960.0 1171.4 L1965.0 1171.5 L1970.0 1171.5 L1975.0 1171.6 L1980.0 1171.6 L1985.0 1171.7 L1990.0 1171.7 L1995.0 1171.7 L2000.0 1171.8 L2003.5 1171.8"/>
<path stroke="#0000ff" d="M287.3 1246.7 L288.0 1230.3 L288.7 1213.6 L289.4 1196.5 L290.1 1179.5 L290.8 1162.4 L291.5 1145.2 L292.2 1128.1 L292.9 1111.0 L293.6 1093.9 L294.4 1076.8 L295.1 1059.9 L295.8 1043.0 L296.5 1026.2 L297.2 1009.5 L297.9 993.0 L298.6 976.6 L299.3 960.4 L300.0 944.4 L300.7 928.6 L301.4 913.1 L302.1 897.8 L302.8 882.7 L303.5 867.9 L304.2 853.3 L304.9 838.9 L305.6 824.7 L306.3 810.7 L307.1 796.9 L307.8 783.2 L308.5 769.6 L309.2 756.2 L309.9 742.9 L310.6 729.8 L311.3 716.7 L312.0 703.7 L312.7 690.7 L313.4 677.9 L314.1 665.1 L314.8 652.3 L315.5 639.7 L316.2 627.0 L316.9 614.5 L317.6 602.0 L318.3 589.5 L319.0 577.0 L319.7 564.6 L320.5 552.2 L321.2 539.9 L321.9 527.6 L322.6 515.3 L323.3 503.0 L324.0 490.7 L324.7 478.4 L325.4 466.1 L326.1 453.9 L326.8 441.7 L327.5 429.5 L328.2 417.5 L328.9 405.5 L329.6 393.7 L330.3 382.0 L331.0 370.5 L331.7 359.2 L332.4 348.1 L333.2 337.2 L333.9 326.5 L334.6 316.1 L335.3 306.0 L336.0 296.2 L336.7 286.7 L337.4 277.6 L338.1 268.8 L338.8 260.3 L339.5 252.3 L340.2 244.6 L340.9 237.2 L341.6 230.3 L342.3 223.8 L343.0 217.6 L343.7 211.9 L344.4 206.7 L345.1 201.8 L345.8 197.4 L346.6 193.5 L347.3 190.0 L348.0 186.9 L348.7 184.3 L349.4 182.1 L350.1 180.4 L350.8 179.0 L351.5 178.1 L352.2 177.6 L352.9 177.3 L353.6 177.5 L354.3 177.9 L355.0 178.7 L355.7 179.8 L356.4 181.1 L357.1 182.8 L357.8 184.7 L358.5 186.8 L359.3 189.1 L360.0 191.7 L360.7 194.5 L361.4 197.5 L362.1 200.7 L362.8 204.1 L363.5 207.6 L364.2 211.3 L364.9 215.2 L365.6 219.2 L366.3 223.3 L367.0 227.6 L367.7 232.0 L368.4 236.4 L369.1 241.0 L369.8 245.6 L370.5 250.4 L371.2 255.1 L371.9 260.0 L372.7 264.8 L373.4 269.8 L374.1 274.7 L374.8 279.7 L375.5 284.7 L376.2 289.8 L376.9 294.8 L377.6 300.0 L378.3 305.1 L379.0 310.3 L379.7 315.6 L380.4 320.8 L381.1 326.1 L381.8 331.5 L382.5 336.8 L383.2 342.2 L383.9 347.7 L384.6 353.1 L385.4 358.6 L386.1 364.2 L386.8 369.7 L387.5 375.3 L388.2 381.0 L388.9 386.6 L389.6 392.4 L390.3 398.1 L391.0 403.9 L391.7 409.7 L392.4 415.5 L393.1 421.3 L393.8 427.2 L394.5 433.2 L395.2 439.1 L395.9 445.1 L396.6 451.1 L397.3 457.2 L398.0 463.3 L398.8 469.4 L399.5 475.5 L400.2 481.7 L400.9 487.9 L401.6 494.1 L402.3 500.4 L403.0 506.7 L403.7 513.0 L404.4 519.4 L405.1 525.8 L405.8 532.2 L406.5 538.6 L407.2 545.0 L407.9 551.5 L408.6 558.0 L409.3 564.4 L410.0 570.9 L410.7 577.4 L411.5 583.9 L412.2 590.3 L412.9 596.8 L413.6 603.3 L414.3 609.7 L415.0 616.1 L415.7 622.5 L416.4 628.9 L417.1 635.3 L417.8 641.6 L418.5 647.9 L419.2 654.1 L419.9 660.3 L420.6 666.5 L421.3 672.6 L422.0 678.6 L422.7 684.6 L423.4 690.6 L424.1 696.5 L424.9 702.3 L425.6 708.1 L426.3 713.8 L427.0 719.4 L427.7 724.9 L428.4 730.4 L429.1 735.7 L429.8 741.0 L430.5 746.2 L431.2 751.2 L431.9 756.1 L432.6 760.9 L433.3 765.6 L434.0 770.2 L434.7 774.5 L435.4 778.8 L436.1 782.9 L436.8 786.9 L437.6 790.8 L438.3 794.6 L439.0 798.3 L439.7 801.9 L440.4 805.4 L441.1 808.8 L441.8 812.1 L442.5 815.5 L443.2 818.7 L443.9 821.9 L444.6 825.1 L445.3 828.2 L446.0 831.3 L446.7 834.3 L447.4 837.3 L448.1 840.2 L448.8 843.0 L449.5 845.7 L450.2 848.4 L451.0 851.0 L451.7 853.6 L452.4 856.0 L453.1 858.4 L453.8 860.6 L454.5 862.8 L455.2 864.9 L455.9 866.9 L456.6 868.7 L457.3 870.5 L458.0 872.2 L458.7 873.7 L459.4 874.2 L460.1 874.5 L460.8 874.8 L461.5 875.1 L462.2 875.2 L462.9 875.4 L463.7 875.5 L464.4 875.7 L465.1 875.8 L465.8 876.0 L466.5 876.2 L467.2 876.5 L467.9 876.9 L468.6 877.3 L469.3 877.8 L470.0 878.3 L471.0 879.2 L473.0 881.0 L475.0 882.9 L477.0 884.8 L479.0 886.5 L481.0 888.0 L483.0 889.5 L485.0 890.9 L487.0 892.3 L489.0 893.7 L491.0 895.0 L493.0 896.4 L495.0 897.7 L497.0 899.1 L499.0 900.4 L501.0 901.8 L503.0 903.1 L505.0 904.4 L507.0 905.7 L509.0 907.1 L511.0 908.3 L513.0 909.6 L515.0 910.9 L517.0 912.2 L519.0 913.5 L521.0 914.7 L523.0 915.9 L525.0 917.1 L527.0 918.3 L529.0 919.5 L531.0 920.8 L533.0 922.0 L535.0 923.3 L537.0 924.6 L539.0 925.9 L541.0 927.3 L543.0 928.8 L545.0 930.3 L547.0 931.8 L549.0 933.3 L551.0 934.8 L553.0 936.3 L555.0 937.8 L557.0 939.2 L559.0 940.6 L561.0 941.9 L563.0 943.3 L565.0 944.6 L567.0 945.9 L569.0 947.2 L571.0 948.5 L573.0 949.8 L575.0 951.1 L577.0 952.5 L579.0 953.9 L581.0 955.4 L583.0 956.8 L585.0 958.3 L587.0 959.8 L589.0 961.3 L591.0 962.8 L593.0 964.3 L595.0 965.8 L597.0 967.3 L599.0 968.8 L601.0 970.3 L603.0 971.8 L605.0 973.3 L607.0 974.8 L609.0 976.3 L611.0 977.8 L613.0 979.3 L615.0 980.7 L617.0 982.1 L619.0 983.4 L621.0 984.7 L623.0 985.9 L625.0 987.2 L627.0 988.4 L629.0 989.6 L631.0 990.7 L633.0 991.9 L635.0 993.2 L637.0 994.4 L639.0 995.7 L641.0 997.0 L643.0 998.3 L645.0 999.7 L647.0 1001.1 L649.0 1002.4 L651.0 1003.8 L653.0 1005.2 L655.0 1006.5 L657.0 1007.9 L659.0 1009.2 L661.0 1010.6 L663.0 1011.9 L665.0 1013.3 L667.0 1014.6 L669.0 1016.0 L671.0 1017.3 L673.0 1018.6 L675.0 1020.0 L677.0 1021.3 L679.0 1022.6 L681.0 1024.0 L683.0 1025.3 L685.0 1026.6 L687.0 1028.0 L689.0 1029.3 L691.0 1030.6 L693.0 1031.9 L695.0 1033.2 L697.0 1034.5 L699.0 1035.8 L700.0 1036.5 L705.0 1039.7 L710.0 1042.9 L715.0 1046.0 L720.0 1049.1 L725.0 1052.1 L730.0 1055.1 L735.0 1058.0 L740.0 1060.8 L745.0 1063.6 L750.0 1066.3 L755.0 1068.9 L760.0 1071.4 L765.0 1073.8 L770.0 1076.1 L775.0 1078.3 L780.0 1080.4 L785.0 1082.4 L790.0 1084.3 L795.0 1086.1 L800.0 1087.7 L805.0 1089.2 L810.0 1090.7 L815.0 1092.0 L820.0 1093.3 L825.0 1094.4 L830.0 1095.5 L835.0 1096.5 L840.0 1097.4 L845.0 1098.3 L850.0 1099.1 L855.0 1099.8 L860.0 1100.5 L865.0 1101.1 L870.0 1101.7 L875.0 1102.2 L880.0 1102.7 L885.0 1103.2 L890.0 1103.7 L895.0 1104.1 L900.0 1104.6 L905.0 1105.0 L910.0 1105.4 L915.0 1105.8 L920.0 1106.2 L925.0 1106.6 L930.0 1107.1 L935.0 1107.5 L940.0 1108.0 L945.0 1108.6 L950.0 1109.1 L955.0 1109.7 L960.0 1110.3 L965.0 1110.9 L970.0 1111.6 L975.0 1112.3 L980.0 1113.0 L985.0 1113.7 L990.0 1114.4 L995.0 1115.2 L1000.0 1116.0 L1005.0 1116.8 L1010.0 1117.6 L1015.0 1118.4 L1020.0 1119.2 L1025.0 1120.0 L1030.0 1120.9 L1035.0 1121.7 L1040.0 1122.5 L1045.0 1123.4 L1050.0 1124.2 L1055.0 1125.1 L1060.0 1125.9 L1065.0 1126.8 L1070.0 1127.6 L1075.0 1128.4 L1080.0 1129.2 L1085.0 1130.0 L1090.0 1130.8 L1095.0 1131.6 L1100.0 1132.4 L1105.0 1133.1 L1110.0 1133.9 L1115.0 1134.6 L1120.0 1135.3 L1125.0 1135.9 L1130.0 1136.6 L1135.0 1137.2 L1140.0 1137.8 L1145.0 1138.4 L1150.0 1138.9 L1155.0 1139.4 L1160.0 1139.9 L1165.0 1140.3 L1170.0 1140.7 L1175.0 1141.1 L1180.0 1141.5 L1185.0 1141.8 L1190.0 1142.1 L1195.0 1142.4 L1200.0 1142.7 L1205.0 1143.0 L1210.0 1143.2 L1215.0 1143.4 L1220.0 1143.6 L1225.0 1143.8 L1230.0 1144.0 L1235.0 1144.2 L1240.0 1144.4 L1245.0 1144.5 L1250.0 1144.7 L1255.0 1144.9 L1260.0 1145.0 L1265.0 1145.2 L1270.0 1145.4 L1275.0 1145.5 L1280.0 1145.7 L1285.0 1145.9 L1290.0 1146.0 L1295.0 1146.2 L1300.0 1146.4 L1305.0 1146.7 L1310.0 1146.9 L1315.0 1147.1 L1320.0 1147.4 L1325.0 1147.7 L1330.0 1148.0 L1335.0 1148.3 L1340.0 1148.6 L1345.0 1149.0 L1350.0 1149.4 L1355.0 1149.8 L1360.0 1150.2 L1365.0 1150.7 L1370.0 1151.1 L1375.0 1151.6 L1380.0 1152.1 L1385.0 1152.6 L1390.0 1153.1 L1395.0 1153.6 L1400.0 1154.2 L1405.0 1154.7 L1410.0 1155.2 L1415.0 1155.7 L1420.0 1156.2 L1425.0 1156.8 L1430.0 1157.3 L1435.0 1157.8 L1440.0 1158.2 L1445.0 1158.7 L1450.0 1159.2 L1455.0 1159.6 L1460.0 1160.0 L1465.0 1160.5 L1470.0 1160.8 L1475.0 1161.2 L1480.0 1161.5 L1485.0 1161.8 L1490.0 1162.1 L1495.0 1162.3 L1500.0 1162.5 L1505.0 1162.7 L1510.0 1162.8 L1515.0 1162.9 L1520.0 1163.0 L1525.0 1163.0 L1530.0 1163.0 L1535.0 1163.0 L1540.0 1162.9 L1545.0 1162.8 L1550.0 1162.7 L1555.0 1162.6 L1560.0 1162.5 L1565.0 1162.3 L1570.0 1162.2 L1575.0 1162.0 L1580.0 1161.8 L1585.0 1161.6 L1590.0 1161.5 L1595.0 1161.3 L1600.0 1161.1 L1605.0 1161.0 L1610.0 1160.8 L1615.0 1160.7 L1620.0 1160.6 L1625.0 1160.5 L1630.0 1160.5 L1635.0 1160.4 L1640.0 1160.4 L1645.0 1160.4 L1650.0 1160.5 L1655.0 1160.6 L1660.0 1160.7 L1665.0 1160.9 L1670.0 1161.1 L1675.0 1161.4 L1680.0 1161.7 L1685.0 1162.1 L1690.0 1162.5 L1695.0 1162.9 L1700.0 1163.4 L1705.0 1163.9 L1710.0 1164.4 L1715.0 1165.0 L1720.0 1165.5 L1725.0 1166.1 L1730.0 1166.7 L1735.0 1167.2 L1740.0 1167.8 L1745.0 1168.3 L1750.0 1168.9 L1755.0 1169.4 L1760.0 1169.8 L1765.0 1170.3 L1770.0 1170.7 L1775.0 1171.1 L1780.0 1171.4 L1785.0 1171.7 L1790.0 1171.9 L1795.0 1172.2 L1800.0 1172.3 L1805.0 1172.5 L1810.0 1172.6 L1815.0 1172.7 L1820.0 1172.8 L1825.0 1172.8 L1830.0 1172.8 L1835.0 1172.8 L1840.0 1172.8 L1845.0 1172.7 L1850.0 1172.6 L1855.0 1172.6 L1860.0 1172.5 L1865.0 1172.3 L1870.0 1172.2 L1875.0 1172.1 L1880.0 1171.9 L1885.0 1171.8 L1890.0 1171.6 L1895.0 1171.5 L1900.0 1171.3 L1905.0 1171.2 L1910.0 1171.0 L1915.0 1170.9 L1920.0 1170.7 L1925.0 1170.6 L1930.0 1170.4 L1935.0 1170.3 L1940.0 1170.2 L1945.0 1170.1 L1950.0 1170.0 L1955.0 1170.0 L1960.0 1169.9 L1965.0 1169.9 L1970.0 1169.9 L1975.0 1169.9 L1980.0 1169.9 L1985.0 1170.0 L1990.0 1170.1 L1995.0 1170.2 L2000.0 1170.4 L2003.5 1170.5"/>
</g>
<rect x="285.1" y="66" width="175.9" height="1277" fill="#00ffff" fill-opacity="0.11"/>
<g stroke="#000" fill="#000">
<line x1="438.6" y1="888.2" x2="600" y2="824.5" stroke-width="9"/>
<polygon points="645.9,805.6 590.4,811.7 598.7,839.3" stroke="none"/>
</g>
<g stroke="#353535" stroke-width="2.4" fill="none">
<path d="M734.1 194.6 L734.1 894.3 L1877.9 894.3"/>
<line x1="734.1" y1="777.9" x2="741.6" y2="777.9"/>
<line x1="734.1" y1="661.5" x2="748.1" y2="661.5"/>
<line x1="734.1" y1="545.1" x2="741.6" y2="545.1"/>
<line x1="734.1" y1="428.7" x2="748.1" y2="428.7"/>
<line x1="734.1" y1="312.3" x2="741.6" y2="312.3"/>
<line x1="734.1" y1="195.9" x2="748.1" y2="195.9"/>
<line x1="1305.3" y1="894.3" x2="1305.3" y2="880.3"/>
<line x1="1876.6" y1="894.3" x2="1876.6" y2="880.3"/>
</g>
<g class="i" fill="#000">
<text x="720.2" y="917.8" text-anchor="end">0</text>
<text x="720.2" y="685.0" text-anchor="end">100</text>
<text x="720.2" y="452.2" text-anchor="end">200</text>
<text x="720.2" y="219.4" text-anchor="end">300</text>
<text x="734.1" y="971" text-anchor="middle">0</text>
<text x="1305.3" y="971" text-anchor="middle">50</text>
<text x="1876.6" y="971" text-anchor="middle">100</text>
<text x="1303.5" y="1055" text-anchor="middle">Time/μs</text>
<text class="yl iy" transform="translate(572.6 543) rotate(-90) scale(1 1.04)" text-anchor="middle">Pressure/MPa</text>
</g>
<g fill="none" stroke-width="9" stroke-linejoin="round" stroke-linecap="butt">
<path stroke="#000000" d="M734.3 894.2 L740.0 890.0 L745.8 885.8 L751.5 881.5 L757.2 877.2 L763.0 872.9 L768.7 868.6 L774.4 864.3 L780.2 859.9 L785.9 855.5 L791.6 851.2 L797.4 846.8 L803.1 842.4 L808.8 838.0 L814.6 833.6 L820.3 829.3 L826.0 824.9 L831.8 820.5 L837.5 816.1 L843.2 811.8 L849.0 807.5 L854.7 803.1 L860.4 798.8 L866.2 794.6 L871.9 790.3 L877.6 786.1 L883.3 781.8 L889.1 777.7 L894.8 773.5 L900.5 769.4 L906.3 765.3 L912.0 761.3 L917.7 757.3 L923.5 753.3 L929.2 749.4 L934.9 745.6 L940.7 741.8 L946.4 738.0 L952.1 734.2 L957.9 730.5 L963.6 726.8 L969.3 723.1 L975.1 719.4 L980.8 715.8 L986.5 712.1 L992.3 708.4 L998.0 704.7 L1003.7 701.0 L1009.5 697.3 L1015.2 693.6 L1020.9 689.8 L1026.7 686.0 L1032.4 682.1 L1038.1 678.2 L1043.9 674.3 L1049.6 670.4 L1055.3 666.5 L1061.1 662.5 L1066.8 658.5 L1072.5 654.6 L1078.3 650.6 L1084.0 646.7 L1089.7 642.7 L1095.5 638.8 L1101.2 634.8 L1106.9 630.9 L1112.7 627.1 L1118.4 623.2 L1124.1 619.4 L1129.9 615.6 L1135.6 611.9 L1141.3 608.2 L1147.1 604.5 L1152.8 600.9 L1158.5 597.4 L1164.2 593.9 L1170.0 590.5 L1175.7 587.2 L1181.4 583.9 L1187.2 580.7 L1192.9 577.6 L1198.6 574.6 L1204.4 571.6 L1210.1 568.8 L1215.8 566.0 L1221.6 563.3 L1227.3 560.8 L1233.0 558.3 L1238.8 556.0 L1244.5 553.7 L1250.2 551.6 L1256.0 549.6 L1261.7 547.7 L1267.4 545.9 L1273.2 544.3 L1278.9 542.7 L1284.6 541.4 L1290.4 540.1 L1296.1 539.0 L1301.8 538.0 L1307.6 537.2 L1313.3 536.6 L1319.0 536.1 L1324.8 535.7 L1330.5 535.5 L1336.2 535.4 L1342.0 535.5 L1347.7 535.6 L1353.4 535.9 L1359.2 536.3 L1364.9 536.8 L1370.6 537.4 L1376.4 538.0 L1382.1 538.7 L1387.8 539.5 L1393.6 540.3 L1399.3 541.2 L1405.0 542.1 L1410.8 543.0 L1416.5 544.0 L1422.2 545.1 L1428.0 546.1 L1433.7 547.2 L1439.4 548.4 L1445.2 549.6 L1450.9 550.8 L1456.6 552.0 L1462.3 553.3 L1468.1 554.6 L1473.8 555.9 L1479.5 557.3 L1485.3 558.7 L1491.0 560.1 L1496.7 561.5 L1502.5 563.0 L1508.2 564.5 L1513.9 566.0 L1519.7 567.5 L1525.4 569.1 L1531.1 570.6 L1536.9 572.2 L1542.6 573.8 L1548.3 575.4 L1554.1 577.1 L1559.8 578.7 L1565.5 580.4 L1571.3 582.0 L1577.0 583.7 L1582.7 585.4 L1588.5 587.1 L1594.2 588.8 L1599.9 590.5 L1605.7 592.2 L1611.4 593.9 L1617.1 595.6 L1622.9 597.3 L1628.6 599.0 L1634.3 600.7 L1640.1 602.4 L1645.8 604.1 L1651.5 605.8 L1657.3 607.5 L1663.0 609.2 L1668.7 610.9 L1674.5 612.5 L1680.2 614.2 L1685.9 615.8 L1691.7 617.5 L1697.4 619.1 L1703.1 620.8 L1708.9 622.4 L1714.6 624.0 L1720.3 625.7 L1726.1 627.3 L1731.8 628.9 L1737.5 630.5 L1743.2 632.1 L1749.0 633.8 L1754.7 635.4 L1760.4 637.0 L1766.2 638.6 L1771.9 640.2 L1777.6 641.8 L1783.4 643.4 L1789.1 645.0 L1794.8 646.6 L1800.6 648.3 L1806.3 649.9 L1812.0 651.5 L1817.8 653.1 L1823.5 654.7 L1829.2 656.4 L1835.0 658.0 L1840.7 659.6 L1846.4 661.3 L1852.2 662.9 L1857.9 664.5 L1863.6 666.2 L1869.4 667.9 L1875.1 669.5"/>
<path stroke="#ff0000" d="M734.3 894.2 L740.0 886.5 L745.8 878.8 L751.5 871.0 L757.2 863.3 L763.0 855.5 L768.7 847.7 L774.4 840.0 L780.2 832.2 L785.9 824.5 L791.6 816.7 L797.4 809.0 L803.1 801.3 L808.8 793.6 L814.6 785.9 L820.3 778.3 L826.0 770.7 L831.8 763.1 L837.5 755.5 L843.2 748.0 L849.0 740.5 L854.7 733.1 L860.4 725.7 L866.2 718.3 L871.9 711.1 L877.6 703.8 L883.3 696.6 L889.1 689.5 L894.8 682.5 L900.5 675.5 L906.3 668.6 L912.0 661.7 L917.7 655.0 L923.5 648.3 L929.2 641.7 L934.9 635.2 L940.7 628.8 L946.4 622.4 L952.1 616.2 L957.9 610.0 L963.6 604.0 L969.3 598.1 L975.1 592.2 L980.8 586.5 L986.5 580.9 L992.3 575.4 L998.0 570.0 L1003.7 564.7 L1009.5 559.5 L1015.2 554.3 L1020.9 549.1 L1026.7 544.0 L1032.4 538.9 L1038.1 533.8 L1043.9 528.6 L1049.6 523.5 L1055.3 518.2 L1061.1 512.9 L1066.8 507.6 L1072.5 502.3 L1078.3 497.0 L1084.0 491.8 L1089.7 486.5 L1095.5 481.3 L1101.2 476.2 L1106.9 471.2 L1112.7 466.3 L1118.4 461.5 L1124.1 456.9 L1129.9 452.4 L1135.6 448.1 L1141.3 443.9 L1147.1 439.9 L1152.8 436.1 L1158.5 432.4 L1164.2 429.0 L1170.0 425.7 L1175.7 422.6 L1181.4 419.7 L1187.2 417.1 L1192.9 414.7 L1198.6 412.4 L1204.4 410.5 L1210.1 408.7 L1215.8 407.2 L1221.6 405.9 L1227.3 404.9 L1233.0 404.2 L1238.8 403.7 L1244.5 403.5 L1250.2 403.6 L1256.0 403.9 L1261.7 404.4 L1267.4 405.2 L1273.2 406.2 L1278.9 407.4 L1284.6 408.8 L1290.4 410.3 L1296.1 412.0 L1301.8 413.8 L1307.6 415.8 L1313.3 417.8 L1319.0 420.0 L1324.8 422.1 L1330.5 424.4 L1336.2 426.7 L1342.0 429.0 L1347.7 431.4 L1353.4 433.7 L1359.2 436.0 L1364.9 438.4 L1370.6 440.8 L1376.4 443.1 L1382.1 445.5 L1387.8 447.9 L1393.6 450.3 L1399.3 452.7 L1405.0 455.1 L1410.8 457.5 L1416.5 459.9 L1422.2 462.3 L1428.0 464.8 L1433.7 467.2 L1439.4 469.7 L1445.2 472.2 L1450.9 474.6 L1456.6 477.1 L1462.3 479.6 L1468.1 482.1 L1473.8 484.7 L1479.5 487.2 L1485.3 489.7 L1491.0 492.3 L1496.7 494.9 L1502.5 497.4 L1508.2 500.0 L1513.9 502.6 L1519.7 505.3 L1525.4 507.9 L1531.1 510.5 L1536.9 513.2 L1542.6 515.9 L1548.3 518.5 L1554.1 521.2 L1559.8 524.0 L1565.5 526.7 L1571.3 529.4 L1577.0 532.2 L1582.7 535.0 L1588.5 537.7 L1594.2 540.5 L1599.9 543.4 L1605.7 546.2 L1611.4 549.1 L1617.1 551.9 L1622.9 554.8 L1628.6 557.7 L1634.3 560.6 L1640.1 563.6 L1645.8 566.5 L1651.5 569.5 L1657.3 572.5 L1663.0 575.5 L1668.7 578.5 L1674.5 581.5 L1680.2 584.6 L1685.9 587.7 L1691.7 590.7 L1697.4 593.8 L1703.1 596.9 L1708.9 599.9 L1714.6 603.0 L1720.3 606.1 L1726.1 609.2 L1731.8 612.2 L1737.5 615.3 L1743.2 618.3 L1749.0 621.4 L1754.7 624.4 L1760.4 627.4 L1766.2 630.4 L1771.9 633.3 L1777.6 636.3 L1783.4 639.2 L1789.1 642.1 L1794.8 645.0 L1800.6 647.8 L1806.3 650.6 L1812.0 653.3 L1817.8 656.1 L1823.5 658.8 L1829.2 661.4 L1835.0 664.0 L1840.7 666.6 L1846.4 669.1 L1852.2 671.5 L1857.9 673.9 L1863.6 676.3 L1869.4 678.6 L1875.1 680.8"/>
<path stroke="#0000ff" d="M734.3 894.2 L740.0 882.0 L745.8 869.8 L751.5 857.5 L757.2 845.1 L763.0 832.8 L768.7 820.4 L774.4 808.0 L780.2 795.7 L785.9 783.5 L791.6 771.3 L797.4 759.2 L803.1 747.2 L808.8 735.3 L814.6 723.7 L820.3 712.1 L826.0 700.8 L831.8 689.7 L837.5 678.8 L843.2 668.1 L849.0 657.6 L854.7 647.3 L860.4 637.2 L866.2 627.2 L871.9 617.3 L877.6 607.6 L883.3 598.0 L889.1 588.4 L894.8 579.0 L900.5 569.6 L906.3 560.3 L912.0 551.1 L917.7 541.9 L923.5 532.7 L929.2 523.6 L934.9 514.6 L940.7 505.5 L946.4 496.5 L952.1 487.6 L957.9 478.7 L963.6 469.8 L969.3 460.9 L975.1 452.0 L980.8 443.1 L986.5 434.3 L992.3 425.4 L998.0 416.6 L1003.7 407.9 L1009.5 399.2 L1015.2 390.6 L1020.9 382.2 L1026.7 373.9 L1032.4 365.8 L1038.1 357.9 L1043.9 350.1 L1049.6 342.6 L1055.3 335.4 L1061.1 328.4 L1066.8 321.8 L1072.5 315.4 L1078.3 309.4 L1084.0 303.7 L1089.7 298.3 L1095.5 293.2 L1101.2 288.5 L1106.9 284.2 L1112.7 280.3 L1118.4 276.7 L1124.1 273.5 L1129.9 270.7 L1135.6 268.3 L1141.3 266.3 L1147.1 264.7 L1152.8 263.5 L1158.5 262.6 L1164.2 262.0 L1170.0 261.8 L1175.7 261.9 L1181.4 262.3 L1187.2 262.9 L1192.9 263.8 L1198.6 265.0 L1204.4 266.4 L1210.1 267.9 L1215.8 269.7 L1221.6 271.7 L1227.3 273.9 L1233.0 276.2 L1238.8 278.7 L1244.5 281.3 L1250.2 284.1 L1256.0 287.0 L1261.7 290.0 L1267.4 293.1 L1273.2 296.3 L1278.9 299.6 L1284.6 303.0 L1290.4 306.4 L1296.1 309.9 L1301.8 313.4 L1307.6 316.9 L1313.3 320.5 L1319.0 324.1 L1324.8 327.8 L1330.5 331.4 L1336.2 335.2 L1342.0 338.9 L1347.7 342.7 L1353.4 346.5 L1359.2 350.3 L1364.9 354.1 L1370.6 358.0 L1376.4 362.0 L1382.1 365.9 L1387.8 369.9 L1393.6 373.9 L1399.3 377.9 L1405.0 382.0 L1410.8 386.1 L1416.5 390.2 L1422.2 394.4 L1428.0 398.5 L1433.7 402.8 L1439.4 407.0 L1445.2 411.3 L1450.9 415.6 L1456.6 419.9 L1462.3 424.2 L1468.1 428.6 L1473.8 433.0 L1479.5 437.4 L1485.3 441.9 L1491.0 446.4 L1496.7 450.9 L1502.5 455.4 L1508.2 460.0 L1513.9 464.6 L1519.7 469.2 L1525.4 473.8 L1531.1 478.5 L1536.9 483.1 L1542.6 487.8 L1548.3 492.5 L1554.1 497.2 L1559.8 501.9 L1565.5 506.5 L1571.3 511.2 L1577.0 515.9 L1582.7 520.5 L1588.5 525.1 L1594.2 529.7 L1599.9 534.3 L1605.7 538.9 L1611.4 543.4 L1617.1 547.9 L1622.9 552.3 L1628.6 556.7 L1634.3 561.0 L1640.1 565.4 L1645.8 569.6 L1651.5 573.8 L1657.3 577.9 L1663.0 582.0 L1668.7 586.0 L1674.5 589.9 L1680.2 593.8 L1685.9 597.5 L1691.7 601.2 L1697.4 604.7 L1703.1 608.2 L1708.9 611.5 L1714.6 614.7 L1720.3 617.8 L1726.1 620.7 L1731.8 623.6 L1737.5 626.3 L1743.2 629.0 L1749.0 631.6 L1754.7 634.1 L1760.4 636.6 L1766.2 639.0 L1771.9 641.3 L1777.6 643.6 L1783.4 645.9 L1789.1 648.1 L1794.8 650.3 L1800.6 652.5 L1806.3 654.5 L1812.0 656.5 L1817.8 658.5 L1823.5 660.4 L1829.2 662.2 L1835.0 663.9 L1840.7 665.6 L1846.4 667.2 L1852.2 668.7 L1857.9 670.1 L1863.6 671.4 L1869.4 672.6 L1875.1 673.7"/>
</g>
<g class="a">
<text x="942.5" y="183.4" fill="#0000ff">279MPa</text>
<text x="839" y="374.9" fill="#ff0000">215MPa</text>
<text x="957" y="540.9" fill="#000">156MPa</text>
</g>
<g stroke-width="1.3">
<line x1="1173.1" y1="257.6" x2="1135" y2="224" stroke="#0000ff"/>
<polygon points="1114.5,205 1142.7,221.3 1132.3,232.7" fill="#0000ff"/>
<line x1="1244.2" y1="400.9" x2="1112" y2="359" stroke="#ff0000"/>
<polygon points="1086.6,350.7 1119.1,353.6 1113.4,369" fill="#ff0000"/>
<line x1="1293.1" y1="534.8" x2="1240" y2="522" stroke="#000"/>
<polygon points="1212.5,514.6 1244.5,516.3 1239.8,530.5" fill="#000"/>
</g>
<g stroke-width="9.2" stroke-linecap="round" fill="none">
<line x1="1458" y1="144" x2="1638.5" y2="144" stroke="#000"/>
<line x1="1458" y1="240.1" x2="1638.5" y2="240.1" stroke="#ff0000"/>
<line x1="1458" y1="335.9" x2="1638.5" y2="335.9" stroke="#0000ff"/>
</g>
<g class="i" fill="#000">
<text x="1654.5" y="171.8">150MPa</text>
<text x="1654.5" y="267">210MPa</text>
<text x="1654.5" y="363.1">270MPa</text>
</g>
</svg></body></html>
